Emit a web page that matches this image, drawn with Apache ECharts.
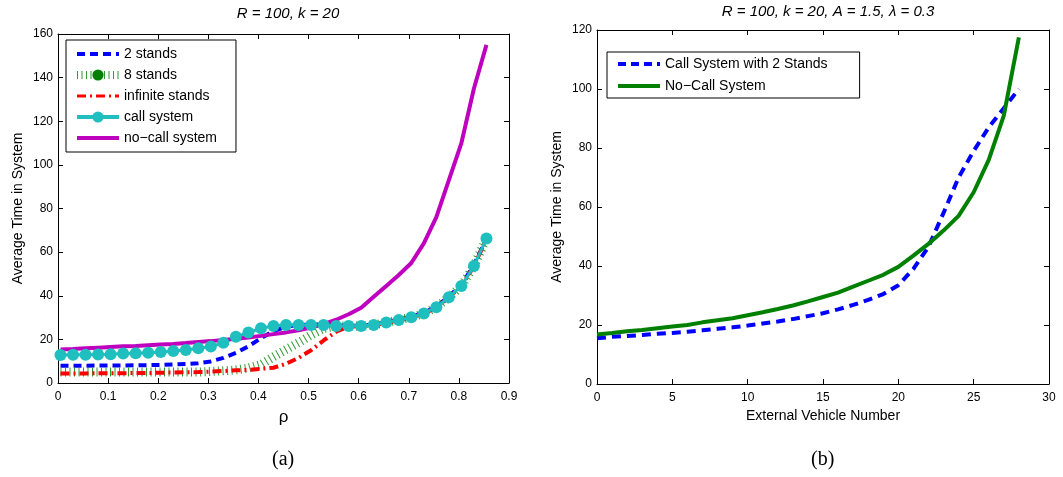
<!DOCTYPE html>
<html>
<head>
<meta charset="utf-8">
<script src="https://cdn.jsdelivr.net/npm/echarts@6/dist/echarts.min.js"></script>
<style>
  html, body { margin: 0; padding: 0; background: #ffffff; }
  #chart { width: 1063px; height: 477px; }
</style>
</head>
<body>
<div id="chart"></div>
<script>
// ---- Panel (a): average time in system vs. traffic intensity rho ----
const rho = [0.005, 0.03, 0.055, 0.08, 0.105, 0.13, 0.155, 0.18, 0.205, 0.23,
             0.255, 0.28, 0.305, 0.33, 0.355, 0.38, 0.405, 0.43, 0.455, 0.48,
             0.505, 0.53, 0.555, 0.58, 0.605, 0.63, 0.655, 0.68, 0.705, 0.73,
             0.755, 0.78, 0.805, 0.83, 0.855];
const twoStands = [7.9, 7.9, 7.9, 8.0, 8.0, 8.0, 8.1, 8.2, 8.3, 8.5,
                   8.7, 9.1, 9.9, 11.5, 13.8, 16.8, 20.5, 23.8, 25.8, 26.6,
                   26.8, 26.8, 26.4, 26.3, 26.3, 26.8, 27.9, 29.1, 30.4, 32.2,
                   35.0, 39.7, 45.0, 54.2, 66.0];
const eightStands = [5.0, 5.0, 5.0, 5.0, 5.0, 5.0, 5.0, 5.0, 5.0, 5.0,
                     5.0, 5.0, 5.3, 5.6, 6.0, 6.8, 8.5, 12.0, 15.3, 18.5,
                     22.0, 25.0, 26.1, 26.1, 26.1, 26.6, 27.7, 28.9, 30.1, 31.9,
                     34.7, 39.3, 44.5, 53.6, 66.3];
const infiniteStands = [4.4, 4.4, 4.4, 4.5, 4.5, 4.5, 4.6, 4.6, 4.7, 4.8,
                        4.9, 5.0, 5.2, 5.5, 5.8, 6.0, 6.5, 7.0, 8.8, 11.5,
                        15.0, 19.5, 23.5, 25.8, 26.1, 26.6, 27.6, 28.8, 30.0, 31.8,
                        34.6, 39.2, 44.4, 53.5, 66.2];
const callSystem = [12.8, 12.9, 13.0, 13.1, 13.2, 13.5, 13.6, 13.9, 14.2, 14.7,
                    15.1, 15.9, 16.7, 18.5, 21.2, 23.1, 25.1, 26.1, 26.6, 26.6,
                    26.6, 26.6, 26.1, 26.1, 26.1, 26.6, 27.7, 28.9, 30.1, 31.9,
                    34.7, 39.3, 44.5, 53.6, 66.3];
const noCallSystem = [15.4, 15.6, 15.9, 16.2, 16.5, 16.8, 17.0, 17.3, 17.6, 17.9,
                      18.3, 18.8, 19.2, 19.7, 20.3, 20.9, 21.6, 22.4, 23.2, 24.2,
                      25.4, 27.0, 29.0, 31.5, 34.5, 39.5, 44.5, 49.5, 55.0, 64.0,
                      76.0, 93.0, 110.0, 135.0, 155.0];

// ---- Panel (b): average time in system vs. number of external vehicles ----
const vehicles = [0, 1, 2, 3, 4, 5, 6, 7, 8, 9, 10, 11, 12, 13, 14,
                  15, 16, 17, 18, 19, 20, 21, 22, 23, 24, 25, 26, 27, 28];
const callTwoStands = [15.5, 16.0, 16.3, 16.6, 17.0, 17.3, 17.7, 18.2, 18.7, 19.2,
                       19.8, 20.5, 21.2, 22.0, 23.0, 24.0, 25.3, 26.8, 28.5, 30.5,
                       33.5, 39.0, 46.5, 58.0, 70.0, 79.0, 87.0, 93.5, 100.0];
const noCallB = [16.8, 17.3, 17.9, 18.3, 18.9, 19.5, 20.0, 20.9, 21.6, 22.3,
                 23.3, 24.3, 25.4, 26.6, 28.0, 29.5, 31.0, 33.0, 35.0, 37.0,
                 39.7, 43.5, 47.5, 52.0, 57.0, 65.0, 76.0, 91.0, 117.5];

const seriesNamesA = ['2 stands', '8 stands', 'infinite stands', 'call system', 'no\u2212call system'];
const seriesNamesB = ['Call System with 2 Stands', 'No\u2212Call System'];

const FONT = 'Liberation Sans, Arial, Helvetica, sans-serif';
const pairs = (xs, ys) => xs.map((x, i) => [x, ys[i]]);

const chart = echarts.init(document.getElementById('chart'), null, { renderer: 'canvas' });

// Axes that frame a plot box: labelled bottom/left, bare top/right, inward ticks.
function boxX(grid, min, max, step, name, gap, showLabels, position) {
  return {
    type: 'value', gridIndex: grid, min: min, max: max, interval: step, position: position,
    name: showLabels ? name : '', nameLocation: 'middle', nameGap: gap,
    nameTextStyle: { color: '#000', fontFamily: FONT, fontSize: name === '\u03c1' ? 17 : 14 },
    axisLine: { show: true, onZero: false, lineStyle: { color: '#000', width: 1 } },
    axisTick: { show: true, inside: true, length: 5, lineStyle: { color: '#000' } },
    axisLabel: { show: showLabels, color: '#000', fontFamily: FONT, fontSize: 12, margin: 8 },
    splitLine: { show: false }
  };
}
function boxY(grid, min, max, step, name, gap, showLabels, position) {
  return {
    type: 'value', gridIndex: grid, min: min, max: max, interval: step, position: position,
    name: showLabels ? name : '', nameLocation: 'middle', nameGap: gap,
    nameTextStyle: { color: '#000', fontFamily: FONT, fontSize: 14 },
    axisLine: { show: true, onZero: false, lineStyle: { color: '#000', width: 1 } },
    axisTick: { show: true, inside: true, length: 5, lineStyle: { color: '#000' } },
    axisLabel: { show: showLabels, color: '#000', fontFamily: FONT, fontSize: 12, margin: 5 },
    splitLine: { show: false }
  };
}

const option = {
  backgroundColor: '#ffffff',
  animation: false,
  title: [
    { text: 'R = 100, k = 20', left: 283, top: 1, textAlign: 'center',
      textStyle: { fontFamily: FONT, fontSize: 15, fontStyle: 'italic', fontWeight: 'normal', color: '#000' } },
    { text: 'R = 100, k = 20, A = 1.5, \u03bb = 0.3', left: 823, top: -1, textAlign: 'center',
      textStyle: { fontFamily: FONT, fontSize: 15, fontStyle: 'italic', fontWeight: 'normal', color: '#000' } }
  ],
  grid: [
    { left: 58, top: 34, width: 451, height: 349 },
    { left: 597, top: 30, width: 452, height: 354 }
  ],
  xAxis: [
    boxX(0, 0, 0.9, 0.1, '\u03c1', 26, true, 'bottom'),
    boxX(0, 0, 0.9, 0.1, '', 0, false, 'top'),
    boxX(1, 0, 30, 5, 'External Vehicle Number', 22, true, 'bottom'),
    boxX(1, 0, 30, 5, '', 0, false, 'top')
  ],
  yAxis: [
    boxY(0, 0, 160, 20, 'Average Time in System', 33, true, 'left'),
    boxY(0, 0, 160, 20, '', 0, false, 'right'),
    boxY(1, 0, 120, 20, 'Average Time in System', 33, true, 'left'),
    boxY(1, 0, 120, 20, '', 0, false, 'right')
  ],
  legend: [
    {
      orient: 'vertical', left: 66, top: 40,
      itemWidth: 42, itemHeight: 14, itemGap: 7,
      padding: [7, 19, 7, 7],
      borderColor: '#000', borderWidth: 1, backgroundColor: '#fff',
      textStyle: { fontFamily: FONT, fontSize: 14, color: '#000' },
      selectedMode: false,
      data: [
        { name: seriesNamesA[0], itemStyle: { opacity: 0 }, lineStyle: { width: 4, type: [8, 5], cap: 'butt' } },
        { name: seriesNamesA[1], itemStyle: { color: '#008000' }, lineStyle: { width: 8, type: [1, 3.5], cap: 'butt', color: '#2f9a2f' } },
        { name: seriesNamesA[2], itemStyle: { opacity: 0 }, lineStyle: { width: 3, type: [9, 4, 2, 4], cap: 'butt' } },
        { name: seriesNamesA[3], lineStyle: { width: 4 } },
        { name: seriesNamesA[4], itemStyle: { opacity: 0 }, lineStyle: { width: 4 } }
      ]
    },
    {
      orient: 'vertical', left: 607, top: 52,
      itemWidth: 42, itemHeight: 14, itemGap: 8,
      padding: [5, 32, 5, 9],
      borderColor: '#000', borderWidth: 1, backgroundColor: '#fff',
      textStyle: { fontFamily: FONT, fontSize: 14, color: '#000' },
      selectedMode: false,
      data: [
        { name: seriesNamesB[0], itemStyle: { opacity: 0 }, lineStyle: { width: 4, type: [8, 5], cap: 'butt' } },
        { name: seriesNamesB[1], itemStyle: { opacity: 0 }, lineStyle: { width: 4 } }
      ]
    }
  ],
  series: [
    { name: seriesNamesA[0], type: 'line', xAxisIndex: 0, yAxisIndex: 0, data: pairs(rho, twoStands),
      symbol: 'none', lineStyle: { color: '#0000ff', width: 4, type: [8, 5], cap: 'butt' }, itemStyle: { color: '#0000ff' } },
    { name: seriesNamesA[1], type: 'line', xAxisIndex: 0, yAxisIndex: 0, data: pairs(rho, eightStands),
      symbol: 'circle', showSymbol: false, lineStyle: { color: '#2f9a2f', width: 9, type: [1, 3.5], cap: 'butt' }, itemStyle: { color: '#008000' } },
    { name: seriesNamesA[2], type: 'line', xAxisIndex: 0, yAxisIndex: 0, data: pairs(rho, infiniteStands),
      symbol: 'none', lineStyle: { color: '#ff0000', width: 4, type: [9, 4, 2, 4], cap: 'butt' }, itemStyle: { color: '#ff0000' } },
    { name: seriesNamesA[3], type: 'line', xAxisIndex: 0, yAxisIndex: 0, data: pairs(rho, callSystem),
      symbol: 'circle', symbolSize: 12, lineStyle: { color: '#1fbfbf', width: 3 }, itemStyle: { color: '#1fbfbf' } },
    { name: seriesNamesA[4], type: 'line', xAxisIndex: 0, yAxisIndex: 0, data: pairs(rho, noCallSystem),
      symbol: 'none', lineStyle: { color: '#bf00bf', width: 4 }, itemStyle: { color: '#bf00bf' } },

    { name: seriesNamesB[0], type: 'line', xAxisIndex: 2, yAxisIndex: 2, data: pairs(vehicles, callTwoStands),
      symbol: 'none', lineStyle: { color: '#0000ff', width: 4, type: [9, 6], cap: 'butt' }, itemStyle: { color: '#0000ff' } },
    { name: seriesNamesB[1], type: 'line', xAxisIndex: 2, yAxisIndex: 2, data: pairs(vehicles, noCallB),
      symbol: 'none', lineStyle: { color: '#008000', width: 4 }, itemStyle: { color: '#008000' } }
  ],
  graphic: [
    { type: 'text', left: 272, top: 450, style: { text: '(a)', fontFamily: 'Liberation Serif, DejaVu Serif, serif', fontSize: 20, fill: '#000' } },
    { type: 'text', left: 811, top: 450, style: { text: '(b)', fontFamily: 'Liberation Serif, DejaVu Serif, serif', fontSize: 20, fill: '#000' } }
  ]
};

chart.setOption(option);
</script>
</body>
</html>
